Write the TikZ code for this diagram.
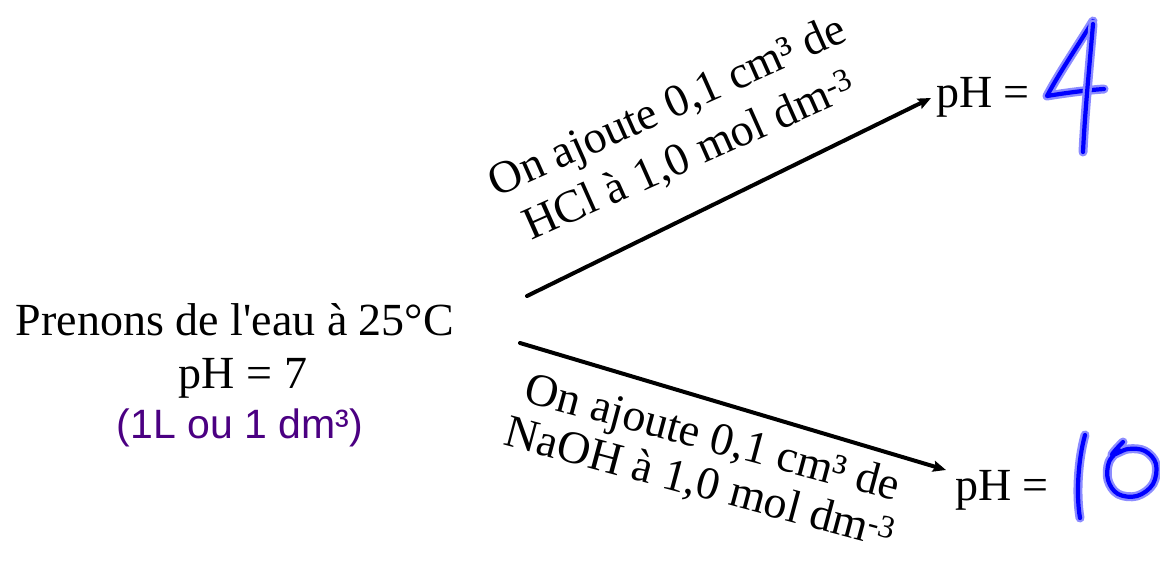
\documentclass[tikz,border=0pt]{standalone}
\usepackage{fontspec}
\setmainfont{Liberation Serif}[Ligatures=TeXOff]
\newfontfamily\labelsans{Liberation Sans}
\usetikzlibrary{arrows.meta}
\definecolor{inkblue}{RGB}{0,0,255}
\definecolor{notepurple}{RGB}{75,0,130}
\tikzset{
  txt/.style={inner sep=0pt, font=\fontsize{46}{54}\selectfont},
  arr/.style={line width=4pt, line cap=round, -{Stealth[length=13pt,width=11pt,inset=2pt]}},
  hand/.style={inkblue, line width=4.2pt, line cap=round, line join=round,
    preaction={draw, inkblue!45, line width=9pt, line cap=round, line join=round}},
}
\begin{document}
\begin{tikzpicture}[x=1pt,y=1pt]
\useasboundingbox (0,0) rectangle (1160,-566);
% source text
\node[txt, anchor=base] (src1) at (235,-335) {Prenons de l'eau à 25°C};
\node[txt, anchor=base] (src2) at (243,-388) {pH = 7};
\node[inner sep=0pt, anchor=base, text=notepurple, font=\labelsans\fontsize{41}{48}\selectfont] (src3) at (240,-438) {(1L ou 1 dm³)};
% results
\node[txt, anchor=base west] (ph1) at (936,-107) {pH =};
\node[txt, anchor=base west] (ph2) at (955,-500) {pH =};
% arrows
\coordinate (s1) at (527,-296);
\coordinate (e1) at (931,-98);
\coordinate (s2) at (520,-343);
\coordinate (e2) at (946,-470);
\draw[arr] (s1) -- (e1);
\draw[arr] (s2) -- (e2);
% rotated labels
\node[txt, align=center, rotate=24] (lab1) at (679,-132)
  {On ajoute 0,1 cm³ de\\HCl à 1,0 mol dm\textsuperscript{-3}};
\node[txt, align=center, rotate=-15, font=\fontsize{46}{47}\selectfont] (lab2) at (706,-462)
  {On ajoute 0,1 cm³ de\\NaOH à 1,0 mol dm\textsuperscript{-3}};
% handwritten 4
\draw[hand] (1093,-21) .. controls (1075,-50) and (1058,-75) .. (1047,-96)
  .. controls (1065,-93) and (1088,-90) .. (1104,-89);
\draw[hand] (1093,-24) .. controls (1090,-60) and (1085,-110) .. (1083,-152);
% handwritten 10
\draw[hand] (1085,-435) .. controls (1078,-460) and (1076,-495) .. (1080,-518);
\draw[hand] plot[smooth, tension=0.6] coordinates {(1123,-442) (1112,-455) (1128,-449) (1145,-451) (1156,-464) (1153,-484) (1137,-496) (1118,-494) (1108,-480) (1109,-462) (1119,-450)};
\end{tikzpicture}
\end{document}
